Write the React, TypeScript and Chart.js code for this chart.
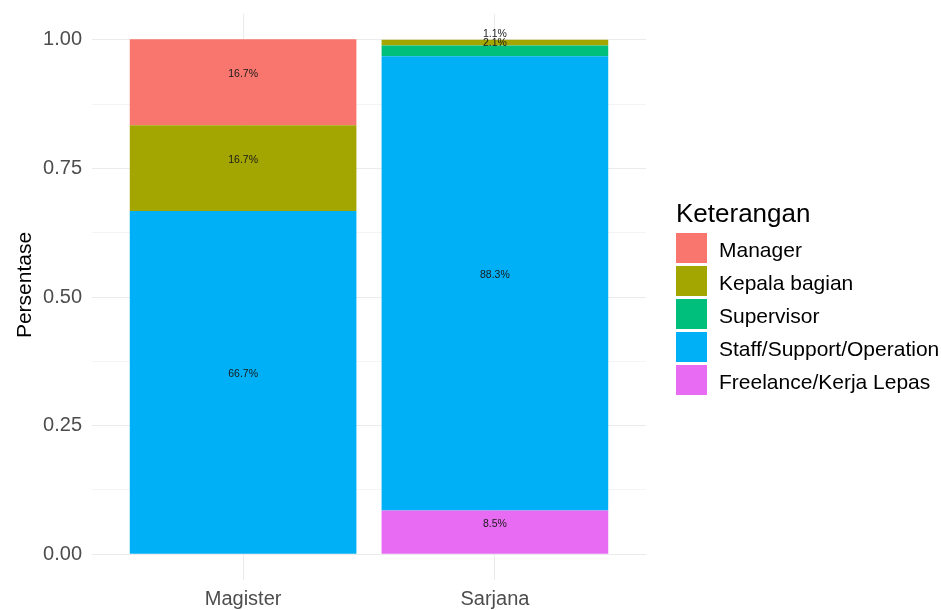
import React, { useEffect, useRef } from "react";
import { Chart, registerables } from "chart.js";

Chart.register(...registerables);

const categories = ["Magister", "Sarjana"];
const legendTitle = "Keterangan";
const seriesNames = ["Freelance/Kerja Lepas", "Staff/Support/Operation", "Supervisor", "Kepala bagian", "Manager"];
const seriesColors = ["#E76BF3", "#00B0F6", "#00BF7D", "#A3A500", "#F8766D"];
const freelance = [0, 8.5];
const staff = [66.7, 88.3];
const supervisor = [0, 2.1];
const kepalaBagian = [16.7, 1.1];
const manager = [16.7, 0];
const seriesValues = [freelance, staff, supervisor, kepalaBagian, manager];
const yTicks = [0, 0.125, 0.25, 0.375, 0.5, 0.625, 0.75, 0.875, 1];
const yTitle = "Persentase";

const FONT = "'Liberation Sans', Arial, Helvetica, sans-serif";

const labelPlugin = {
  id: "segLabels",
  afterDatasetsDraw(chart: any) {
    const ctx = chart.ctx;
    ctx.save();
    ctx.font = `10.5px ${FONT}`;
    ctx.fillStyle = "#1a1a1a";
    ctx.textAlign = "center";
    ctx.textBaseline = "middle";
    chart.data.datasets.forEach((ds: any, di: number) => {
      const meta = chart.getDatasetMeta(di);
      meta.data.forEach((el: any, i: number) => {
        const v = seriesValues[di][i];
        if (!v) return;
        const yc = (el.y + el.base) / 2 - 8;
        ctx.fillText(v.toFixed(1) + "%", el.x, yc);
      });
    });
    ctx.restore();
  },
};

const legendPlugin = {
  id: "customLegend",
  afterDraw(chart: any) {
    const ctx = chart.ctx;
    ctx.save();
    // y-axis title
    ctx.save();
    ctx.translate(31, 285);
    ctx.rotate(-Math.PI / 2);
    ctx.font = `21px ${FONT}`;
    ctx.fillStyle = "#000000";
    ctx.textAlign = "center";
    ctx.textBaseline = "alphabetic";
    ctx.fillText(yTitle, 0, 0);
    ctx.restore();
    // legend
    ctx.fillStyle = "#000000";
    ctx.textBaseline = "alphabetic";
    ctx.textAlign = "left";
    ctx.font = `26px ${FONT}`;
    ctx.fillText(legendTitle, 676, 222);
    ctx.font = `21px ${FONT}`;
    const order = [...seriesNames.keys()].reverse();
    order.forEach((si, k) => {
      const y = 233 + k * 33;
      ctx.fillStyle = seriesColors[si];
      ctx.fillRect(676, y, 31, 30);
      ctx.fillStyle = "#000000";
      ctx.fillText(seriesNames[si], 719, y + 24);
    });
    ctx.restore();
  },
};

export default function App() {
  const ref = useRef<HTMLCanvasElement>(null);
  useEffect(() => {
    if (!ref.current) return;
    const chart = new Chart(ref.current, {
      type: "bar",
      data: {
        datasets: seriesNames.map((name, si) => ({
          label: name,
          backgroundColor: seriesColors[si],
          borderWidth: 0,
          data: categories.map((_, ci) => ({ x: ci + 1, y: seriesValues[si][ci] / 100 })),
          barPercentage: 0.9,
          categoryPercentage: 1,
        })),
      },
      options: {
        animation: false,
        responsive: false,
        layout: { padding: { top: 14, right: 295, left: 0, bottom: 0 } },
        plugins: { legend: { display: false }, tooltip: { enabled: false } },
        scales: {
          x: {
            type: "linear",
            stacked: true,
            offset: false,
            min: 0.4,
            max: 2.6,
            afterBuildTicks: (s: any) => {
              s.ticks = categories.map((_, i) => ({ value: i + 1 }));
            },
            afterFit: (s: any) => {
              s.height = 30;
              s.paddingLeft = 0;
              s.paddingRight = 0;
            },
            ticks: {
              padding: 7,
              color: "#4D4D4D",
              font: { family: FONT, size: 20 },
              maxRotation: 0,
              callback: (v: any) => categories[Math.round(v) - 1] ?? "",
            },
            grid: { color: "#EBEBEB", lineWidth: 1, drawTicks: false, offset: false },
            border: { display: false },
          },
          y: {
            stacked: true,
            min: -0.05,
            max: 1.05,
            afterBuildTicks: (s: any) => {
              s.ticks = yTicks.map((v) => ({ value: v }));
            },
            afterFit: (s: any) => {
              s.width = 92;
              s.paddingTop = 0;
              s.paddingBottom = 0;
            },
            ticks: {
              padding: 10,
              color: "#4D4D4D",
              font: { family: FONT, size: 20 },
              callback: (v: any) => (Math.abs((v * 4) - Math.round(v * 4)) < 1e-6 ? Number(v).toFixed(2) : ""),
            },
            grid: {
              drawTicks: false,
              color: (c: any) => {
                const v = c.tick ? c.tick.value : 0;
                return Math.abs(v * 4 - Math.round(v * 4)) < 1e-6 ? "#EBEBEB" : "#F4F4F4";
              },
              lineWidth: 1,
            },
            border: { display: false },
          },
        },
      },
      plugins: [labelPlugin, legendPlugin],
    } as any);
    return () => chart.destroy();
  }, []);
  return (
    <div style={{ position: "fixed", left: 0, top: 0, width: 941, height: 610, background: "#fff" }}>
      <canvas ref={ref} width={941} height={610} style={{ display: "block" }} />
    </div>
  );
}
